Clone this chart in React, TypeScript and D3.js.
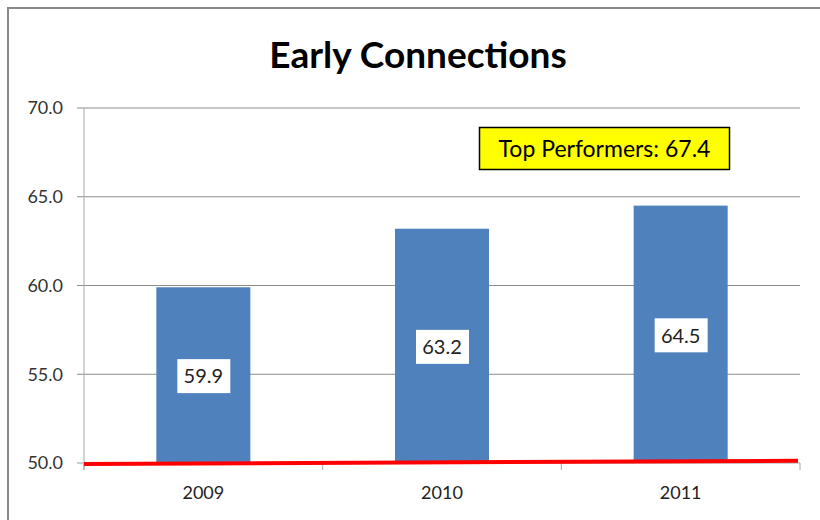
import React from "react";
import * as d3 from "d3";

const categories = ["2009", "2010", "2011"];
const values = [59.9, 63.2, 64.5];
const yTicks = [50, 55, 60, 65, 70];
const title = "Early Connections";
const calloutText = "Top Performers: 67.4";
const redLineEnds = [49.95, 50.12];

const W = 820;
const H = 520;
const FONT = "Lato, 'Open Sans', sans-serif";

export default function App() {
  const left = 84;
  const right = 800;
  const top = 108;
  const bottom = 463;

  const x = d3.scaleBand<string>().domain(categories).range([left, right]).paddingInner(0.606).paddingOuter(0.303);
  const xc = d3.scaleBand<string>().domain(categories).range([left, right]);
  const y = d3.scaleLinear().domain([50, 70]).range([bottom, top]);

  return (
    <svg width={W} height={H} style={{ position: "absolute", left: 0, top: 0, background: "#fff" }}>
      <rect x={0} y={0} width={W} height={H} fill="#fff" />
      <rect x={8} y={8} width={W + 20} height={H + 20} fill="none" stroke="#8a8a8a" strokeWidth={2} />
      <text x={418} y={68} textAnchor="middle" fontFamily={FONT} fontWeight="bold" fontSize={37} fill="#000">
        {title}
      </text>
      {yTicks.map((t) => (
        <g key={t}>
          <line x1={left - 7} x2={right} y1={y(t)} y2={y(t)} stroke={t === 50 ? "#a0a0a0" : "#8c8c8c"} strokeWidth={1} />
          <text x={63} y={y(t)} dy="0.35em" textAnchor="end" fontFamily={FONT} fontSize={18} fill="#333">
            {t.toFixed(1)}
          </text>
        </g>
      ))}
      <line x1={left} x2={left} y1={top} y2={bottom + 7} stroke="#a8a8a8" strokeWidth={1} />
      {[...categories.map((c) => xc(c) as number), right].map((px, i) => (
        <line key={i} x1={px} x2={px} y1={bottom} y2={bottom + 7} stroke="#a8a8a8" strokeWidth={1} />
      ))}
      {categories.map((c, i) => (
        <rect key={c} x={x(c)} y={y(values[i])} width={x.bandwidth()} height={y(50) - y(values[i])} fill="#4f81bd" />
      ))}
      {categories.map((c, i) => {
        const cx = (x(c) as number) + x.bandwidth() / 2;
        const cy = (y(values[i]) + y(50)) / 2 + 1;
        return (
          <g key={c + "l"}>
            <rect x={cx - 26} y={cy - 17} width={53} height={34} fill="#fff" />
            <text x={cx} y={cy} dy="0.36em" textAnchor="middle" fontFamily={FONT} fontSize={20} fill="#222">
              {values[i].toFixed(1)}
            </text>
          </g>
        );
      })}
      {categories.map((c) => (
        <text key={c + "x"} x={(xc(c) as number) + xc.bandwidth() / 2} y={493} dy="0.35em" textAnchor="middle" fontFamily={FONT} fontSize={18} fill="#222">
          {c}
        </text>
      ))}
      <line x1={left} x2={right - 2} y1={y(redLineEnds[0])} y2={y(redLineEnds[1])} stroke="#ff0000" strokeWidth={4} />
      <rect x={479.5} y={127.5} width={250} height={42} fill="#ffff00" stroke="#000" strokeWidth={1.5} />
      <text x={604.5} y={149} dy="0.35em" textAnchor="middle" fontFamily={FONT} fontSize={23} fill="#000">
        {calloutText}
      </text>
    </svg>
  );
}
